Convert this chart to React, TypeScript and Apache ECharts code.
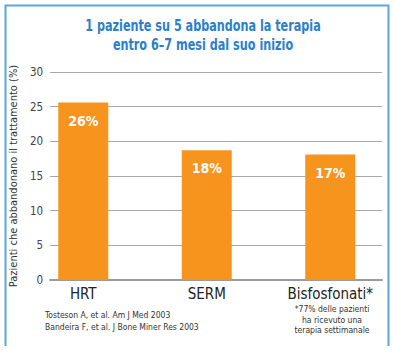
import React, { useEffect, useRef } from "react";
import * as echarts from "echarts";

const categories = ["HRT", "SERM", "Bisfosfonati*"];
const values = [25.6, 18.7, 18.1];
const valueLabels = ["26%", "18%", "17%"];
const yTicks = { min: 0, max: 30, interval: 5 };
const titleLines = ["1 paziente su 5 abbandona la terapia", "entro 6–7 mesi dal suo inizio"];
const yAxisName = "Pazienti che abbandonano il trattamento (%)";
const refLines = ["Tosteson A, et al. Am J Med 2003", "Bandeira F, et al. J Bone Miner Res 2003"];
const noteLines = ["*77% delle pazienti", "ha ricevuto una", "terapia settimanale"];

const FONT = "'Liberation Sans Narrow', 'DejaVu Sans Condensed', 'Roboto Condensed', sans-serif";

export default function App() {
  const ref = useRef<HTMLDivElement>(null);
  useEffect(() => {
    if (!ref.current) return;
    const chart = echarts.init(ref.current, undefined, { renderer: "svg" });
    chart.setOption({
      animation: false,
      backgroundColor: "#ffffff",
      grid: [
        { left: 44, right: 12, top: 72, bottom: 79 },
        { left: 21.5, right: 2, top: 72, bottom: 79 },
      ],
      xAxis: [
        {
          gridIndex: 0,
          type: "value",
          min: 0,
          max: 1,
          show: true,
          axisLine: { show: true, onZero: false, lineStyle: { color: "#9a9a9a", width: 2 } },
          axisTick: { show: false },
          axisLabel: { show: false },
          splitLine: { show: false },
        },
        {
          gridIndex: 1,
          type: "category",
          data: categories,
          axisLine: { show: false },
          axisTick: { show: false },
          axisLabel: { fontSize: 15, color: "#222", margin: 6, fontFamily: FONT },
        },
      ],
      yAxis: [
        {
          gridIndex: 0,
          type: "value",
          min: yTicks.min,
          max: yTicks.max,
          interval: yTicks.interval,
          name: yAxisName,
          nameLocation: "middle",
          nameRotate: 90,
          nameGap: 29,
          nameTextStyle: { fontSize: 11, color: "#333", fontFamily: FONT },
          axisLine: { show: false },
          axisTick: { show: false },
          axisLabel: { fontSize: 11.5, color: "#444", margin: 7, fontFamily: FONT },
          splitLine: { show: true, lineStyle: { color: "#a8a8a8", width: 1 } },
        },
        {
          gridIndex: 1,
          type: "value",
          min: yTicks.min,
          max: yTicks.max,
          show: false,
          splitLine: { show: false },
        },
      ],
      series: [
        {
          type: "bar",
          xAxisIndex: 1,
          yAxisIndex: 1,
          data: values,
          barWidth: 50,
          itemStyle: { color: "#f7941d" },
          label: {
            show: true,
            position: "insideTop",
            distance: 11,
            color: "#ffffff",
            fontSize: 14,
            fontWeight: "bold",
            fontFamily: FONT,
            formatter: (p: any) => valueLabels[p.dataIndex],
          },
        },
      ],
      graphic: [
        {
          type: "polyline",
          shape: { points: [[5.5, 346], [5.5, 5.5], [388.5, 5.5], [388.5, 346]] },
          style: { stroke: "#5aa8d9", lineWidth: 2, fill: null },
        },
        {
          type: "text",
          x: 203,
          y: 16,
          scaleX: 0.78,
          style: {
            text: titleLines.join("\n"),
            textAlign: "center",
            fill: "#2b7fcb",
            font: `bold 16px ${FONT}`,
            lineHeight: 19,
          },
        },
        {
          type: "text",
          x: 45,
          y: 309,
          style: {
            text: refLines.join("\n"),
            textAlign: "left",
            fill: "#333",
            font: `8.5px ${FONT}`,
            lineHeight: 12,
          },
        },
        {
          type: "text",
          x: 332,
          y: 304,
          style: {
            text: noteLines.join("\n"),
            textAlign: "center",
            fill: "#333",
            font: `8.5px ${FONT}`,
            lineHeight: 10.5,
          },
        },
      ],
    });
    return () => chart.dispose();
  }, []);
  return (
    <div
      ref={ref}
      style={{ position: "absolute", left: 0, top: 0, width: 394, height: 359 }}
    />
  );
}
